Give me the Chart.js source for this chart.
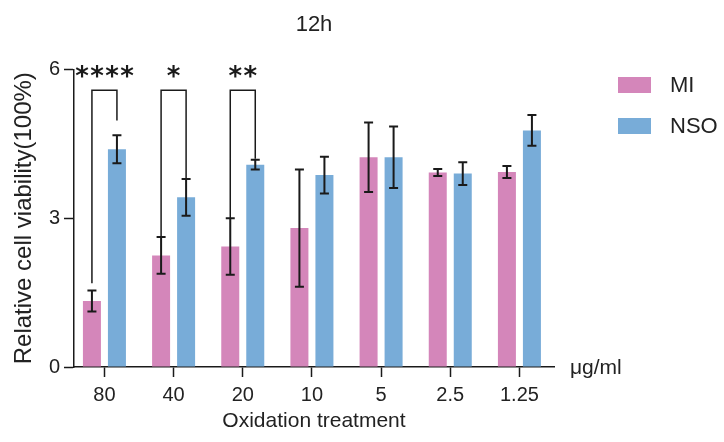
<!DOCTYPE html>
<html><head><meta charset="utf-8">
<script src="https://cdn.jsdelivr.net/npm/chart.js@4"></script>
<style>html,body{margin:0;padding:0;background:#fff}canvas{display:block}</style>
</head><body>
<canvas id="c" width="724" height="442"></canvas>
<script>
// ---- data ----
const categories = ['80', '40', '20', '10', '5', '2.5', '1.25'];
const seriesNames = ['MI', 'NSO'];
const miMean = [1.33, 2.25, 2.43, 2.80, 4.23, 3.92, 3.93];
const miErr  = [0.21, 0.37, 0.57, 1.18, 0.70, 0.07, 0.12];
const nsoMean = [4.39, 3.42, 4.08, 3.87, 4.23, 3.90, 4.77];
const nsoErr  = [0.28, 0.37, 0.10, 0.37, 0.62, 0.23, 0.31];
const yTickValues = [0, 3, 6];
const sigIndex = [0, 1, 2];
const sigLabels = ['****', '*', '**'];
const sigTop = [5.58, 5.58, 5.58];
const sigLeftEnd = [1.69, 2.62, 3.00];
const sigRightEnd = [4.97, 3.80, 4.20];
const sigStarLevel = 5.98;
const titleText = '12h';
const xTitle = 'Oxidation treatment';
const yTitle = 'Relative cell viability(100%)';
const unitLabel = 'μg/ml';

const FONT = "'Liberation Sans', Arial, Helvetica, sans-serif";
const PINK = '#D486BA';
const BLUE = '#78ACD8';
const INK = '#1a1a1a';

const errs = [miErr, nsoErr];

const extras = {
  id: 'extras',
  afterDatasetsDraw(chart) {
    const ctx = chart.ctx, y = chart.scales.y, x = chart.scales.x;
    ctx.save();
    ctx.strokeStyle = INK;
    ctx.lineWidth = 2;
    chart.data.datasets.forEach((ds, di) => {
      const meta = chart.getDatasetMeta(di);
      meta.data.forEach((bar, i) => {
        const v = ds.data[i].y, e = errs[di][i];
        const yt = y.getPixelForValue(v + e), yb = y.getPixelForValue(v - e);
        ctx.beginPath();
        ctx.moveTo(bar.x, yt); ctx.lineTo(bar.x, yb);
        ctx.moveTo(bar.x - 4.5, yt); ctx.lineTo(bar.x + 4.5, yt);
        ctx.moveTo(bar.x - 4.5, yb); ctx.lineTo(bar.x + 4.5, yb);
        ctx.stroke();
      });
    });
    // significance brackets
    const m0 = chart.getDatasetMeta(0), m1 = chart.getDatasetMeta(1);
    ctx.lineWidth = 1.5;
    sigIndex.forEach((idx, k) => {
      const xl = m0.data[idx].x, xr = m1.data[idx].x;
      const yt = y.getPixelForValue(sigTop[k]);
      ctx.beginPath();
      ctx.moveTo(xl, y.getPixelForValue(sigLeftEnd[k]));
      ctx.lineTo(xl, yt);
      ctx.lineTo(xr, yt);
      ctx.lineTo(xr, y.getPixelForValue(sigRightEnd[k]));
      ctx.stroke();
      // stars
      const cx = x.getPixelForValue(idx);
      const n = sigLabels[k].length, step = 15;
      ctx.fillStyle = INK;
      ctx.font = "bold 26px 'DejaVu Sans', sans-serif";
      ctx.textAlign = 'center';
      ctx.textBaseline = 'alphabetic';
      const yc = y.getPixelForValue(sigStarLevel);
      for (let s = 0; s < n; s++) {
        ctx.fillText('*', cx + (s - (n - 1) / 2) * step, yc + 15);
      }
    });
    ctx.restore();
  },
  afterDraw(chart) {
    const ctx = chart.ctx;
    ctx.save();
    // legend
    chart.data.datasets.forEach((ds, di) => {
      const top = 77 + di * 41;
      ctx.fillStyle = ds.backgroundColor;
      ctx.fillRect(618, top, 33, 16);
      ctx.fillStyle = '#222';
      ctx.font = '22px ' + FONT;
      ctx.textAlign = 'left';
      ctx.textBaseline = 'middle';
      ctx.fillText(ds.label, 670, top + 9);
    });
    // unit label
    ctx.font = '21px ' + FONT;
    ctx.fillStyle = '#222';
    ctx.textBaseline = 'middle';
    ctx.fillText(unitLabel, 570, chart.scales.y.getPixelForValue(0) + 1);
    ctx.restore();
  }
};

new Chart(document.getElementById('c'), {
  type: 'bar',
  data: {
    datasets: [
      { label: seriesNames[0], data: miMean.map((v, i) => ({ x: i, y: v })), backgroundColor: PINK },
      { label: seriesNames[1], data: nsoMean.map((v, i) => ({ x: i, y: v })), backgroundColor: BLUE }
    ]
  },
  options: {
    responsive: false,
    animation: false,
    devicePixelRatio: 1,
    categoryPercentage: 0.723,
    barPercentage: 0.72,
    layout: { padding: { left: 0, right: 170, top: 0, bottom: 0 } },
    plugins: {
      legend: { display: false },
      tooltip: { enabled: false },
      title: {
        display: true, text: titleText, fullSize: false,
        color: '#222', font: { family: FONT, size: 22, weight: 'normal' },
        padding: { top: 12, bottom: 31 }
      }
    },
    scales: {
      x: {
        type: 'linear', min: -0.44, max: 6.5, offset: false,
        afterBuildTicks: (s) => { s.ticks = categories.map((c, i) => ({ value: i })); },
        afterFit: (s) => { s.height = 75; },
        ticks: {
          callback: (v) => categories[v],
          color: '#222', font: { family: FONT, size: 20 }, padding: 6, maxRotation: 0, autoSkip: false
        },
        grid: { drawOnChartArea: false, drawTicks: true, tickLength: 10, tickWidth: 1.5, tickColor: INK, offset: false },
        border: { display: true, color: INK, width: 1.5 },
        title: { display: true, text: xTitle, color: '#222', font: { family: FONT, size: 21 }, padding: { top: 0, bottom: 8 } }
      },
      y: {
        min: 0, max: 6,
        afterBuildTicks: (s) => { s.ticks = yTickValues.map(v => ({ value: v })); },
        afterFit: (s) => { s.width = 74; },
        ticks: { color: '#222', font: { family: FONT, size: 20 }, padding: 4 },
        grid: { drawOnChartArea: false, drawTicks: true, tickLength: 10, tickWidth: 1.5, tickColor: INK },
        border: { display: true, color: INK, width: 1.5 },
        title: { display: true, text: yTitle, color: '#222', font: { family: FONT, size: 24 }, padding: { top: 10, bottom: 0 } }
      }
    }
  },
  plugins: [extras]
});
</script>
</body></html>
